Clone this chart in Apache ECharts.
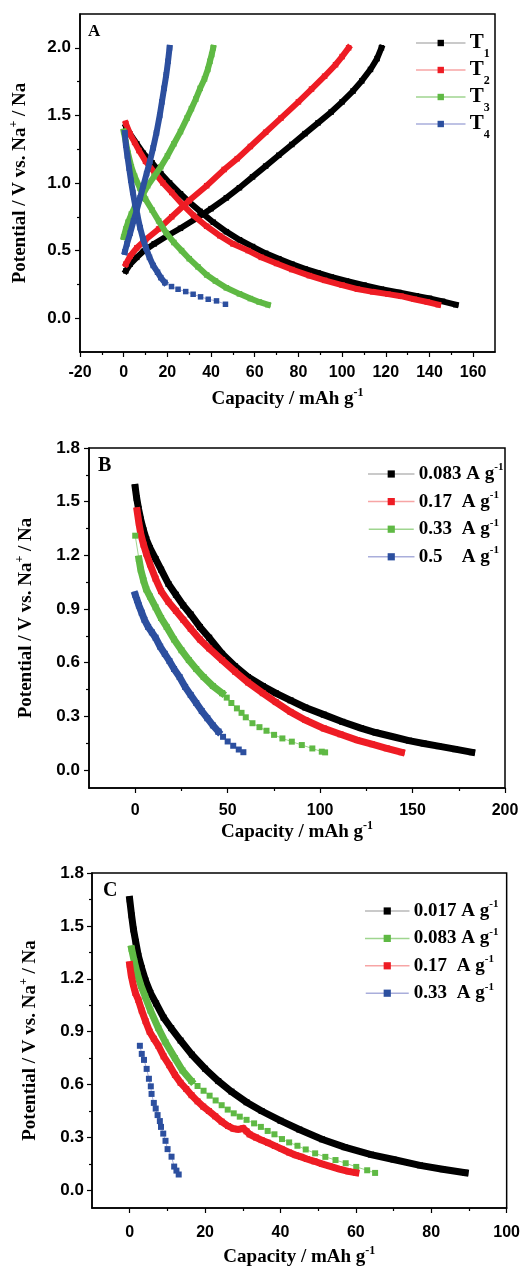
<!DOCTYPE html>
<html><head><meta charset="utf-8">
<script src="https://cdn.jsdelivr.net/npm/echarts@6/dist/echarts.min.js"></script>
<style>html,body{margin:0;padding:0;background:#fff}#c{width:523px;height:1270px}</style>
</head><body><div id="c"></div>
<script>
// ---------- tick labels ----------
const xTicksA = [-20,0,20,40,60,80,100,120,140,160];
const yTicksA = [0,0.5,1.0,1.5,2.0];
const xTicksB = [0,50,100,150,200];
const yTicksB = [0,0.3,0.6,0.9,1.2,1.5,1.8];
const xTicksC = [0,20,40,60,80,100];
const yTicksC = [0,0.3,0.6,0.9,1.2,1.5,1.8];

// ---------- legend names ----------
const namesA = ['T1','T2','T3','T4'];
const ratesB = ['0.083','0.17','0.33','0.5'];
const ratesC = ['0.017','0.083','0.17','0.33'];

// ---------- panel A: [capacity, potential] ----------
const t1Dis = [[1,1.42],[3,1.36],[6,1.29],[9,1.22],[13,1.15],[17,1.07],[21,1.0],[26,0.92],[30,0.86],[35,0.79],[41,0.71],[47,0.64],[53,0.58],[59,0.53],[65,0.48],[71,0.44],[77,0.4],[83,0.365],[89,0.335],[95,0.305],[102,0.275],[110,0.245],[118,0.215],[126,0.19],[134,0.165],[140,0.147],[146,0.125],[152,0.1]];
const t1Ch = [[1,0.35],[3,0.4],[6,0.45],[9,0.495],[14,0.55],[20,0.61],[26,0.665],[33,0.735],[40,0.81],[47,0.89],[53,0.965],[59,1.045],[65,1.125],[71,1.205],[77,1.285],[83,1.365],[89,1.445],[95,1.525],[100,1.6],[105,1.68],[109,1.755],[113,1.84],[116,1.92],[118,2.0]];
const t2Dis = [[1,1.44],[3,1.36],[5,1.3],[7,1.24],[10,1.16],[14,1.08],[18,1.0],[22,0.93],[27,0.84],[32,0.76],[38,0.68],[44,0.61],[50,0.55],[57,0.5],[63,0.45],[70,0.405],[77,0.36],[85,0.315],[92,0.28],[100,0.245],[107,0.215],[114,0.195],[121,0.178],[127,0.163],[133,0.14],[139,0.12],[144,0.1]];
const t2Ch = [[1,0.4],[3,0.46],[6,0.52],[10,0.58],[16,0.66],[22,0.75],[30,0.87],[38,0.98],[46,1.1],[52,1.18],[58,1.27],[65,1.375],[72,1.48],[80,1.6],[86,1.695],[92,1.79],[97,1.875],[100,1.935],[103,2.0]];
const t3Dis = [[0,1.38],[1,1.3],[2,1.22],[3.5,1.12],[5,1.05],[7.5,0.96],[10,0.88],[13,0.8],[16,0.72],[19.5,0.63],[23,0.56],[26.5,0.5],[30,0.44],[34,0.38],[38,0.32],[42,0.275],[47,0.225],[53,0.18],[58,0.145],[62,0.12],[66,0.1]];
const t3Ch = [[0,0.6],[1,0.66],[2,0.71],[3.5,0.77],[5,0.82],[7,0.87],[9,0.92],[11,0.98],[14,1.05],[17,1.12],[20,1.2],[23,1.29],[26,1.38],[29,1.48],[31,1.55],[33,1.62],[35,1.7],[37,1.77],[38.5,1.84],[39.5,1.9],[40.3,1.95],[41,2.0]];
const t4Dis = [[0.5,1.37],[1,1.28],[1.7,1.2],[2.5,1.11],[3.3,1.02],[4.2,0.93],[5.2,0.84],[6.3,0.76],[7.5,0.67],[8.8,0.59],[10.2,0.52],[11.8,0.45],[13.5,0.39],[15.5,0.34],[17,0.3],[18.8,0.264],[21.9,0.234],[24.9,0.214],[28.4,0.197],[31.8,0.177],[35.2,0.158],[38.7,0.14],[42.5,0.128],[46.6,0.103]];
const t4Ch = [[0.5,0.49],[1.5,0.55],[3,0.63],[4.5,0.72],[6,0.8],[7.5,0.89],[9,0.98],[10.5,1.07],[12,1.16],[13.5,1.26],[15,1.37],[16.5,1.5],[17.5,1.6],[18.5,1.7],[19.5,1.8],[20.3,1.9],[21,2.0]];

// ---------- panel B ----------
const b083 = [[0,1.58],[0.8,1.52],[1.8,1.46],[3,1.4],[4.5,1.34],[6,1.29],[8,1.24],[11,1.18],[14,1.12],[18,1.04],[22,0.98],[26,0.92],[30,0.87],[35,0.8],[40,0.74],[47,0.65],[54,0.58],[61,0.52],[69,0.47],[76,0.43],[84,0.39],[92,0.35],[102,0.31],[112,0.27],[122,0.235],[130,0.21],[140,0.185],[148,0.165],[156,0.149],[164,0.134],[173,0.117],[182,0.1]];
const b017 = [[1,1.45],[2,1.38],[3,1.32],[4.5,1.26],[6,1.21],[8,1.15],[11,1.07],[14,1.0],[18,0.94],[22,0.89],[26,0.84],[30,0.79],[35,0.73],[40,0.68],[47,0.615],[54,0.55],[61,0.49],[69,0.43],[76,0.38],[84,0.325],[92,0.28],[102,0.233],[111,0.2],[120,0.168],[128,0.145],[136,0.122],[144,0.1]];
const b033 = [[0,1.31],[2,1.18],[3,1.12],[4.5,1.06],[6,1.01],[8,0.97],[11,0.91],[14,0.85],[17,0.8],[21,0.73],[25,0.67],[29,0.615],[33,0.565],[37,0.52],[42,0.47],[47,0.43],[49.5,0.405],[52,0.375],[55,0.345],[57.5,0.32],[59.8,0.295],[63.4,0.262],[67.2,0.24],[71,0.22],[75.1,0.197],[79.6,0.177],[84.7,0.159],[90.1,0.14],[95.8,0.121],[100.9,0.103],[102.7,0.099]];
const b05 = [[0,0.98],[1,0.95],[2,0.92],[3.5,0.88],[5,0.84],[7,0.8],[9,0.77],[11,0.74],[13.5,0.69],[16,0.65],[18.5,0.61],[21,0.565],[24,0.52],[27,0.465],[30,0.42],[33,0.375],[36,0.33],[39,0.29],[42,0.25],[45,0.215],[47.5,0.186],[50,0.16],[53,0.136],[56,0.115],[58.5,0.1]];

// ---------- panel C ----------
const c017 = [[0,1.65],[0.5,1.56],[1,1.48],[1.6,1.41],[2.3,1.33],[3.2,1.26],[4.2,1.19],[5.5,1.12],[7,1.06],[9,0.98],[11,0.92],[13.5,0.85],[16.5,0.77],[20,0.69],[23.5,0.62],[27,0.56],[31,0.5],[35,0.45],[40,0.395],[45,0.345],[51,0.29],[57,0.245],[64,0.203],[70,0.175],[77,0.142],[83,0.12],[89,0.1]];
const c083 = [[0.5,1.37],[1.2,1.3],[2,1.23],[3,1.16],[4.1,1.1],[5.5,1.02],[7.6,0.92],[9.5,0.84],[12,0.75],[14,0.68],[16.4,0.62],[18,0.592],[19.6,0.565],[21.2,0.537],[22.8,0.51],[24.4,0.483],[26,0.458],[27.6,0.437],[29.2,0.418],[31,0.4],[33,0.38],[34.8,0.36],[36.6,0.337],[38.4,0.318],[40.4,0.291],[42.3,0.272],[44.5,0.253],[46.7,0.232],[49.2,0.21],[51.9,0.19],[54.6,0.172],[57.3,0.154],[60.1,0.133],[63,0.114],[65.1,0.099]];
const c17 = [[0,1.28],[0.4,1.22],[0.9,1.17],[1.5,1.12],[2.3,1.08],[3.2,1.02],[4.2,0.96],[5.3,0.9],[6.4,0.86],[7.6,0.82],[9,0.76],[10.5,0.71],[12,0.655],[13.5,0.61],[15,0.575],[16.4,0.54],[18,0.505],[19.5,0.475],[21,0.45],[22.7,0.42],[24.4,0.39],[26.1,0.365],[27.5,0.35],[28.8,0.346],[30.1,0.352],[31,0.335],[31.8,0.318],[33.5,0.3],[35,0.285],[36.7,0.27],[38.5,0.252],[40.3,0.235],[42.3,0.215],[44,0.2],[45.5,0.19],[47,0.178],[49,0.165],[51,0.15],[53,0.138],[55.6,0.121],[58,0.108],[60,0.1]];
const c33 = [[2.7,0.82],[3.2,0.774],[3.8,0.74],[4.5,0.689],[5.1,0.633],[5.6,0.59],[5.8,0.547],[6.4,0.496],[6.9,0.464],[7.4,0.427],[8.0,0.393],[8.3,0.36],[8.9,0.322],[9.5,0.281],[10.05,0.234],[11.1,0.191],[11.8,0.135],[12.4,0.112],[13.0,0.09]];

// ---------- styles ----------
const DARK = {k:'#000000', r:'#ee1c24', g:'#5fb944', b:'#2c4f9f'};
const LIGHT = {k:'#b9b9b9', r:'#f7a5a5', g:'#9fd58f', b:'#a9aedb'};
// index ranges drawn as a continuous (dense) band; rest drawn as separate markers
const denseRange = new Map([[t4Dis,[0,15]],[b033,[1,15]],[b05,[0,19]],[c083,[0,10]],[c33,null]]);

const panels = [
  {grid:{left:80, top:14, width:415, height:338}, x:[-20,170], y:[-0.25,2.25], xt:xTicksA, yt:yTicksA,
   size:5.5, band:6, xFont:16, yFont:17, xMargin:13, yMargin:9, xGap:35, yGap:48,
   entries:[{name:namesA[0],c:'k',d:[t1Dis,t1Ch]},{name:namesA[1],c:'r',d:[t2Dis,t2Ch]},{name:namesA[2],c:'g',d:[t3Dis,t3Ch]},{name:namesA[3],c:'b',d:[t4Dis,t4Ch]}],
   legend:{left:416, top:26, itemWidth:48, itemHeight:8, gap:-7, kind:'T'}},
  {grid:{left:89, top:448, width:416, height:340}, x:[-25,200], y:[-0.1,1.8], xt:xTicksB, yt:yTicksB,
   size:6, band:7, xFont:16, yFont:17, xMargin:15, yMargin:9, xGap:32, yGap:51,
   entries:[{name:'B|'+ratesB[0],c:'k',d:[b083]},{name:'B|'+ratesB[1],c:'r',d:[b017]},{name:'B|'+ratesB[2],c:'g',d:[b033]},{name:'B|'+ratesB[3],c:'b',d:[b05]}],
   legend:{left:368, top:462, itemWidth:45, itemHeight:9, gap:3.6, kind:'R'}},
  {grid:{left:92, top:873, width:416, height:338}, x:[-10,100], y:[-0.1,1.8], xt:xTicksC, yt:yTicksC,
   size:6, band:7, xFont:16, yFont:17, xMargin:17, yMargin:8, xGap:37, yGap:50,
   entries:[{name:'C|'+ratesC[0],c:'k',d:[c017]},{name:'C|'+ratesC[1],c:'g',d:[c083]},{name:'C|'+ratesC[2],c:'r',d:[c17]},{name:'C|'+ratesC[3],c:'b',d:[c33]}],
   legend:{left:365, top:899, itemWidth:43, itemHeight:9, gap:3.4, kind:'R'}}
];

const SERIF = 'Liberation Serif', SANS = 'Liberation Sans';
const nameStyle = {fontFamily:SERIF, fontWeight:'bold', fontSize:19, color:'#000', lineHeight:24,
  rich:{sup:{fontFamily:SERIF, fontWeight:'bold', fontSize:12, lineHeight:12, verticalAlign:'top', color:'#000'}}};

function minorsOf(majors, range){
  const out = [];
  const step = majors[1]-majors[0];
  const cand = [majors[0]-step/2];
  for (let i=0;i<majors.length;i++) cand.push(majors[i]+step/2);
  cand.forEach(v=>{ if (v>range[0]+1e-9 && v<range[1]-1e-9) out.push(+v.toFixed(6)); });
  return out;
}

const grids=[], xAxes=[], yAxes=[], series=[], legends=[];
let zc = 2;
panels.forEach((p, gi)=>{
  grids.push(Object.assign({show:true, borderColor:'#000', borderWidth:1.5, backgroundColor:'#fff'}, p.grid));
  const line = {show:true, onZero:false, lineStyle:{color:'#000', width:1.5}};
  const lab = (fmt, m, fs)=>({fontFamily:SANS, fontWeight:'bold', fontSize:fs, color:'#000', margin:m, formatter:fmt});
  xAxes.push({gridIndex:gi, type:'value', position:'bottom', min:p.x[0], max:p.x[1],
    axisLine:line, splitLine:{show:false},
    axisTick:{show:true, inside:false, length:3, customValues:minorsOf(p.xt,p.x), lineStyle:{color:'#000', width:1.2}},
    axisLabel:Object.assign({customValues:p.xt}, lab(v=>String(v), p.xMargin, p.xFont)),
    name:'Capacity / mAh g{sup|-1}', nameLocation:'middle', nameGap:p.xGap, nameTextStyle:nameStyle});
  xAxes.push({gridIndex:gi, type:'value', position:'bottom', min:p.x[0], max:p.x[1],
    axisLine:{show:false, onZero:false}, splitLine:{show:false}, axisLabel:{show:false},
    axisTick:{show:true, inside:false, length:5, customValues:p.xt, lineStyle:{color:'#000', width:1.2}}});
  yAxes.push({gridIndex:gi, type:'value', position:'left', min:p.y[0], max:p.y[1],
    axisLine:line, splitLine:{show:false},
    axisTick:{show:true, inside:false, length:3, customValues:minorsOf(p.yt,p.y), lineStyle:{color:'#000', width:1.2}},
    axisLabel:Object.assign({customValues:p.yt}, lab(v=>v.toFixed(1), p.yMargin, p.yFont)),
    name:'Potential / V vs. Na{sup|+} / Na', nameLocation:'middle', nameGap:p.yGap, nameRotate:90, nameTextStyle:nameStyle});
  yAxes.push({gridIndex:gi, type:'value', position:'left', min:p.y[0], max:p.y[1],
    axisLine:{show:false, onZero:false}, splitLine:{show:false}, axisLabel:{show:false},
    axisTick:{show:true, inside:false, length:5, customValues:p.yt, lineStyle:{color:'#000', width:1.2}}});

  const xi = gi*2, yi = gi*2;
  p.entries.forEach(e=>{
    e.d.forEach(pts=>{
      const rng = denseRange.has(pts) ? denseRange.get(pts) : [0, pts.length-1];
      const pieces = [];
      if (rng === null) pieces.push({data:pts, dense:false});
      else {
        if (rng[0] > 0) pieces.push({data:pts.slice(0, rng[0]+1), dense:false});
        pieces.push({data:pts.slice(rng[0], rng[1]+1), dense:true});
        if (rng[1] < pts.length-1) pieces.push({data:pts.slice(rng[1]), dense:false});
      }
      pieces.forEach(pc=>{
        series.push({type:'line', name:e.name, xAxisIndex:xi, yAxisIndex:yi, data:pc.data,
          symbol:'rect', symbolSize:p.size, showSymbol:true, silent:true, animation:false, z:zc++,
          itemStyle:{color:DARK[e.c], borderWidth:0},
          lineStyle: pc.dense ? {color:DARK[e.c], width:p.band, cap:'square', join:'miter'} : {color:LIGHT[e.c], width:1},
          emphasis:{disabled:true}});
      });
    });
  });

  const L = p.legend;
  const legendData = p.entries.map(e=>({name:e.name, itemStyle:{color:DARK[e.c], borderWidth:0},
    lineStyle:{color:LIGHT[e.c], width:1.5}}));
  let textStyle, formatter;
  if (L.kind === 'T') {
    textStyle = {fontFamily:SERIF, fontWeight:'bold', fontSize:21, lineHeight:34, color:'#000',
      rich:{sub:{fontFamily:SERIF, fontWeight:'bold', fontSize:12, lineHeight:12, verticalAlign:'bottom', color:'#000'}}};
    formatter = n => 'T{sub|' + n.slice(1) + '}';
  } else {
    textStyle = {fontFamily:SERIF, fontWeight:'bold', fontSize:19, lineHeight:24, color:'#000',
      rich:{n:{fontFamily:SERIF, fontWeight:'bold', fontSize:19, lineHeight:24, width:43, color:'#000'},
            sup:{fontFamily:SERIF, fontWeight:'bold', fontSize:11, lineHeight:11, verticalAlign:'top', color:'#000'}}};
    formatter = n => { const r = n.split('|')[1]; return (r.length >= 5 ? r + ' ' : '{n|' + r + '}') + 'A g{sup|-1}'; };
  }
  legends.push({orient:'vertical', left:L.left, top:L.top, padding:0, itemWidth:L.itemWidth, itemHeight:L.itemHeight,
    itemGap:L.gap, selectedMode:false, data:legendData, textStyle, formatter});
});

const chart = echarts.init(document.getElementById('c'), null, {renderer:'canvas'});
chart.setOption({
  animation:false,
  backgroundColor:'#fff',
  grid:grids, xAxis:xAxes, yAxis:yAxes, series, legend:legends,
  graphic:[
    {type:'text', left:88, top:23, style:{text:'A', font:'bold 17px "Liberation Serif"', fill:'#000'}},
    {type:'text', left:98, top:456, style:{text:'B', font:'bold 20px "Liberation Serif"', fill:'#000'}},
    {type:'text', left:103, top:881, style:{text:'C', font:'bold 20px "Liberation Serif"', fill:'#000'}}
  ]
});
</script></body></html>
